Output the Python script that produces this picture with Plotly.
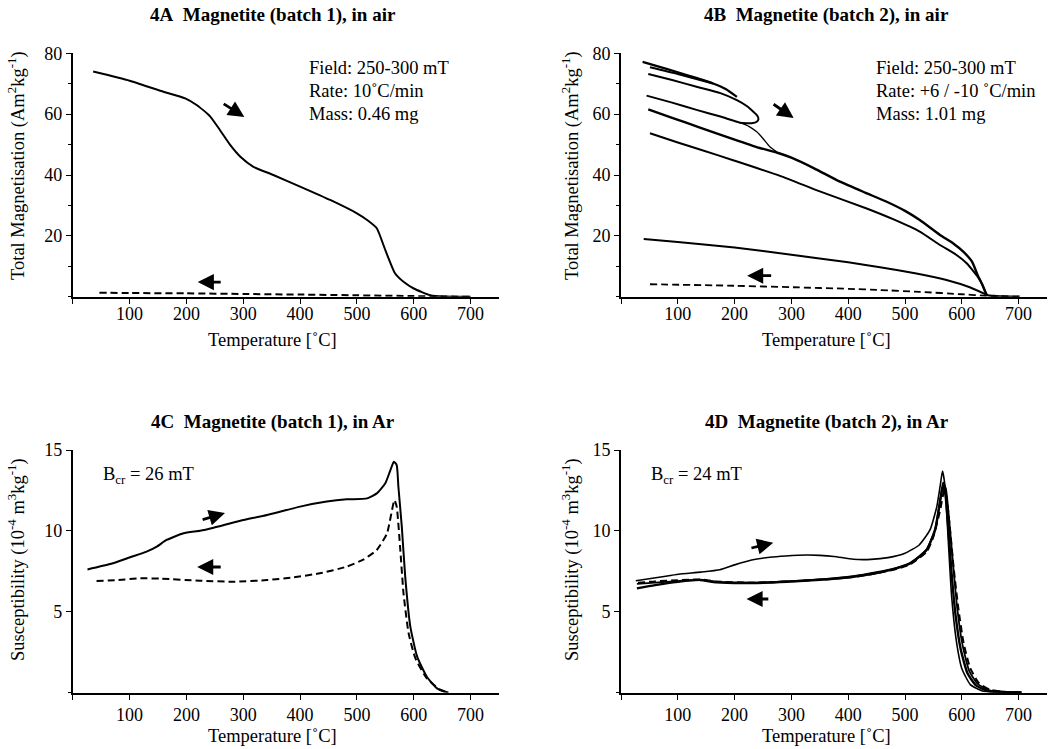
import plotly.graph_objects as go

FONT = "Liberation Serif, Times New Roman, serif"

# ---------------- Panel 4A (Magnetite batch 1, air) ----------------
a_heat_T = [36, 100, 154, 198, 218, 242, 259, 277, 295, 318, 353, 400, 453, 500, 518, 535, 550, 567, 582, 600, 629, 653, 700]
a_heat_M = [74.0, 71.0, 67.7, 65.2, 63.0, 59.2, 54.8, 49.9, 46.0, 42.7, 40.0, 36.2, 31.8, 27.4, 25.2, 22.5, 15.3, 7.7, 4.9, 2.7, 0.5, 0.05, 0.0]
a_cool_T = [47, 100, 200, 300, 400, 500, 600, 650, 700]
a_cool_M = [1.3, 1.2, 1.1, 0.9, 0.7, 0.45, 0.2, 0.05, 0.0]

# ---------------- Panel 4B (Magnetite batch 2, air) ----------------
b_s1_T = [38, 80, 120, 162, 185, 204]
b_s1_M = [77.2, 74.9, 72.6, 70.1, 68.2, 65.7]
b_s2_T = [51, 100, 162]
b_s2_M = [75.4, 73.2, 70.1]
b_s3_T = [48, 90, 133, 175, 204, 222, 233, 240, 242, 239, 230, 221, 209.5, 175, 133, 90, 45]
b_s3_M = [73.2, 71.2, 69.0, 66.9, 64.6, 62.6, 60.8, 59.5, 58.4, 57.5, 57.0, 57.0, 57.2, 59.2, 61.4, 63.8, 66.1]
b_thin_T = [209.5, 225, 239, 250, 262, 274]
b_thin_M = [57.2, 56.0, 54.2, 52.0, 49.3, 47.6]
b_up_T = [48, 90, 139, 200, 240, 274, 300, 340, 385.6, 430, 467.8, 500, 526, 561.6, 585, 602.6, 618, 629, 637, 644, 660, 702]
b_up_M = [61.6, 58.8, 55.6, 51.6, 49.1, 47.4, 45.7, 42.2, 37.8, 34.2, 31.2, 28.2, 25.2, 20.3, 17.5, 14.8, 11.5, 6.6, 3.6, 0.6, 0.2, 0.0]
b_lo_T = [51, 100, 139, 200, 280, 350, 432.5, 480, 526, 561.6, 590, 608.6, 622, 632, 644]
b_lo_M = [53.7, 50.7, 48.4, 44.7, 39.7, 34.6, 29.0, 25.4, 21.4, 17.0, 13.8, 11.0, 8.0, 5.5, 0.6]
b_l19_T = [40, 100, 200, 300, 400, 456, 520, 573, 614, 644]
b_l19_M = [19.0, 18.0, 16.2, 13.8, 11.3, 9.7, 7.6, 5.5, 3.1, 0.6]
b_cool_T = [51, 200, 303, 400, 456, 526, 600, 644, 700]
b_cool_M = [4.1, 3.6, 3.1, 2.6, 2.2, 1.6, 0.8, 0.3, 0.0]

# ---------------- Panel 4C (Magnetite batch 1, Ar) ----------------
c_heat_T = [26, 66, 101, 130, 148, 165, 195, 224, 248, 295, 342, 400, 447, 482, 518, 535, 550, 559, 565, 570, 573, 579, 585, 594, 606, 623, 641, 661]
c_heat_X = [7.62, 7.95, 8.37, 8.72, 9.03, 9.44, 9.85, 10.01, 10.2, 10.63, 10.98, 11.5, 11.81, 11.95, 12.01, 12.32, 12.94, 13.76, 14.28, 14.07, 12.73, 10.26, 7.17, 4.08, 2.23, 0.99, 0.27, 0.0]
c_cool_T = [42, 77, 119, 154, 224, 283, 342, 388, 435, 482, 512, 535, 553, 566, 570, 576, 582, 591, 603, 623, 647, 661]
c_cool_X = [6.9, 6.96, 7.07, 7.05, 6.92, 6.86, 6.96, 7.13, 7.38, 7.79, 8.24, 8.82, 9.85, 11.9, 11.5, 9.0, 6.14, 3.67, 2.12, 0.89, 0.16, 0.0]

# ---------------- Panel 4D (Magnetite batch 2, Ar) ----------------
d_h1_T = [26, 70, 101, 140, 174, 200, 230, 262, 290, 327, 350, 375, 409, 440, 470, 500, 525, 544, 556, 562, 566, 570, 576, 582, 590, 600, 615, 635, 660, 705]
d_h1_X = [6.92, 7.15, 7.32, 7.45, 7.6, 7.9, 8.2, 8.37, 8.45, 8.51, 8.49, 8.42, 8.25, 8.24, 8.35, 8.62, 9.13, 10.06, 11.5, 12.8, 13.7, 12.9, 9.5, 6.0, 3.3, 1.5, 0.5, 0.12, 0.03, 0.02]
d_c1_T = [28, 60, 100, 139, 168, 230, 292, 350, 409, 450, 485, 510, 538, 553, 562, 567, 571, 576, 582, 589, 598, 610, 625, 645, 680, 705]
d_c1_X = [6.45, 6.65, 6.85, 6.97, 6.82, 6.78, 6.86, 6.98, 7.17, 7.4, 7.69, 8.0, 8.82, 10.06, 11.9, 12.8, 12.3, 10.3, 7.4, 4.8, 2.7, 1.2, 0.45, 0.12, 0.03, 0.02]
d_c2_T = [28, 60, 100, 139, 168, 230, 292, 350, 409, 450, 485, 510, 538, 553, 562, 567, 572, 578, 585, 592, 601, 613, 628, 648, 680, 705]
d_c2_X = [6.72, 6.8, 6.9, 6.97, 6.85, 6.8, 6.88, 7.0, 7.2, 7.45, 7.72, 8.05, 8.85, 10.1, 11.9, 13.0, 12.6, 10.6, 7.8, 5.2, 3.0, 1.35, 0.55, 0.15, 0.04, 0.02]
d_cd_T = [30, 60, 100, 139, 168, 230, 292, 350, 409, 450, 485, 510, 538, 550, 562, 569, 573, 579, 586, 594, 603, 615, 630, 650, 680, 700]
d_cd_X = [6.8, 6.88, 6.95, 7.0, 6.87, 6.8, 6.87, 6.98, 7.15, 7.38, 7.65, 7.95, 8.7, 9.64, 11.3, 12.5, 12.1, 10.2, 7.6, 5.2, 3.1, 1.5, 0.6, 0.18, 0.04, 0.02]

x_ticks = [100, 200, 300, 400, 500, 600, 700]
x_ticktext = ["100", "200", "300", "400", "500", "600", "700"]
m_ticks = [20, 40, 60, 80]
m_ticktext = ["20", "40", "60", "80"]
m_minor = [0, 10, 30, 50, 70]
s_ticks = [5, 10, 15]
s_ticktext = ["5", "10", "15"]

titles = ["4A\u00a0 Magnetite (batch 1), in air", "4B\u00a0 Magnetite (batch 2), in air",
          "4C\u00a0 Magnetite (batch 1), in Ar", "4D\u00a0 Magnetite (batch 2), in Ar"]
ytitle_m = "Total Magnetisation (Am<sup>2</sup>kg<sup>-1</sup>)"
ytitle_s = "Susceptibility (10<sup>-4</sup> m<sup>3</sup>kg<sup>-1</sup>)"
xtitle = "Temperature [\u02daC]"

W, H = 1051, 749

fig = go.Figure()


def line(x, y, ax, width=2.0, dash=None):
    fig.add_trace(go.Scatter(
        x=x, y=y, mode="lines", xaxis="x" + ax, yaxis="y" + ax,
        line=dict(color="black", width=width, dash=dash, shape="spline", smoothing=0.5),
        showlegend=False, hoverinfo="skip"))


DASH = "7px,4px"
# A
line(a_heat_T, a_heat_M, "", 2.0)
line(a_cool_T, a_cool_M, "", 2.0, DASH)
# B
line(b_s1_T, b_s1_M, "2", 2.2)
line(b_s2_T, b_s2_M, "2", 2.2)
line(b_s3_T, b_s3_M, "2", 2.0)
line(b_thin_T, b_thin_M, "2", 1.3)
line(b_up_T, b_up_M, "2", 2.4)
line(b_lo_T, b_lo_M, "2", 2.0)
line(b_l19_T, b_l19_M, "2", 2.0)
line(b_cool_T, b_cool_M, "2", 1.8, DASH)
# C
line(c_heat_T, c_heat_X, "3", 2.0)
line(c_cool_T, c_cool_X, "3", 2.0, DASH)
# D
line(d_h1_T, d_h1_X, "4", 1.6)
line(d_c1_T, d_c1_X, "4", 2.4)
line(d_c2_T, d_c2_X, "4", 1.8)
line(d_cd_T, d_cd_X, "4", 2.0, DASH)

px2x = lambda p: p / W
px2y = lambda p: 1 - p / H

xdomA = [px2x(72.7), px2x(499)]
xdomB = [px2x(621), px2x(1047)]
ydomT = [px2y(296.7), px2y(53.3)]
ydomB = [px2y(692.7), px2y(450)]

tickfont = dict(family=FONT, size=18, color="black")


def xaxis(dom, anchor, standoff=0):
    return dict(domain=dom, anchor=anchor, range=[0, 750], showline=True, linecolor="black",
                linewidth=1.6, ticks="outside", ticklen=5, tickwidth=1.4, tickcolor="black",
                tickmode="array", tickvals=x_ticks, ticktext=x_ticktext, showgrid=False,
                zeroline=False, tickfont=tickfont, fixedrange=True, ticklabelstandoff=standoff,
                minor=dict(tickmode="array", tickvals=[0], ticks="outside", ticklen=5,
                           tickwidth=1.4, tickcolor="black", showgrid=False))


def yaxis(dom, anchor, rng, tv, tt, minor):
    return dict(domain=dom, anchor=anchor, range=rng, showline=True, linecolor="black",
                linewidth=1.6, ticks="outside", ticklen=5, tickwidth=1.4, tickcolor="black",
                tickmode="array", tickvals=tv, ticktext=tt, showgrid=False, zeroline=False,
                tickfont=tickfont, fixedrange=True,
                minor=dict(tickmode="array", tickvals=minor, ticks="outside", ticklen=3,
                           tickwidth=1.4, tickcolor="black", showgrid=False))


ann = []


def text(x, y, t, size=18.5, xanchor="left", angle=0):
    ann.append(dict(x=px2x(x), y=px2y(y), xref="paper", yref="paper", text=t, showarrow=False,
                    xanchor=xanchor, yanchor="middle", textangle=angle,
                    font=dict(family=FONT, size=size, color="black")))


# titles
text(272.5, 15, "<b>" + titles[0] + "</b>", 19, xanchor="center")
text(826.5, 15, "<b>" + titles[1] + "</b>", 19, xanchor="center")
text(272.5, 421.7, "<b>" + titles[2] + "</b>", 19, xanchor="center")
text(826.5, 421.7, "<b>" + titles[3] + "</b>", 19, xanchor="center")
# axis titles
text(272.5, 339.5, xtitle, 18.5, xanchor="center")
text(826.5, 339.5, xtitle, 18.5, xanchor="center")
text(272.5, 736, xtitle, 18.5, xanchor="center")
text(826.5, 736, xtitle, 18.5, xanchor="center")
text(16, 166, ytitle_m, 18.5, xanchor="center", angle=-90)
text(570, 166, ytitle_m, 18.5, xanchor="center", angle=-90)
text(16, 560, ytitle_s, 18.5, xanchor="center", angle=-90)
text(570, 560, ytitle_s, 18.5, xanchor="center", angle=-90)
# info text
for i, t in enumerate(["Field: 250-300 mT", "Rate: 10\u02daC/min", "Mass: 0.46 mg"]):
    text(306.7, 68.3 + i * 22.9, t)
for i, t in enumerate(["Field: 250-300 mT", "Rate: +6 / -10 \u02daC/min", "Mass: 1.01 mg"]):
    text(873.5, 68.3 + i * 22.9, t)
text(101, 475, "B<sub>cr</sub> = 26 mT")
text(649, 475, "B<sub>cr</sub> = 24 mT")

# arrows (tail -> head, in data coordinates)
arrows = [
    ("", 263, 63.7, 302, 59.1), ("", 263, 4.8, 220, 4.8),
    ("2", 266, 63.6, 304, 58.7), ("2", 267, 6.9, 222, 6.9),
    ("3", 226, 10.67, 268, 11.1), ("3", 263, 7.77, 219, 7.77),
    ("4", 227, 8.92, 268, 9.27), ("4", 262, 5.79, 221, 5.79),
]
for axn, tx, ty, hx, hy in arrows:
    ann.append(dict(x=hx, y=hy, ax=tx, ay=ty, xref="x" + axn, yref="y" + axn,
                    axref="x" + axn, ayref="y" + axn, showarrow=True, text="",
                    arrowhead=2, arrowsize=1.15, arrowwidth=2.8, arrowcolor="black"))

fig.update_layout(
    width=W, height=H, margin=dict(l=0, r=0, t=0, b=0, autoexpand=False),
    paper_bgcolor="white", plot_bgcolor="white", showlegend=False,
    font=dict(family=FONT, color="black"),
    xaxis=xaxis(xdomA, "y", -5), yaxis=yaxis(ydomT, "x", [0, 80], m_ticks, m_ticktext, m_minor),
    xaxis2=xaxis(xdomB, "y2", -5), yaxis2=yaxis(ydomT, "x2", [0, 80], m_ticks, m_ticktext, m_minor),
    xaxis3=xaxis(xdomA, "y3"), yaxis3=yaxis(ydomB, "x3", [0, 15], s_ticks, s_ticktext, [0]),
    xaxis4=xaxis(xdomB, "y4"), yaxis4=yaxis(ydomB, "x4", [0, 15], s_ticks, s_ticktext, [0]),
    annotations=ann,
)

fig.write_html("out.html", config={"displayModeBar": False})

# remove the default page margin so the figure sits at the window's top-left corner
with open("out.html", "r", encoding="utf-8") as f:
    html = f.read()
html = html.replace("<head>", "<head><style>html,body{margin:0;padding:0;overflow:hidden;}</style>", 1)
with open("out.html", "w", encoding="utf-8") as f:
    f.write(html)
